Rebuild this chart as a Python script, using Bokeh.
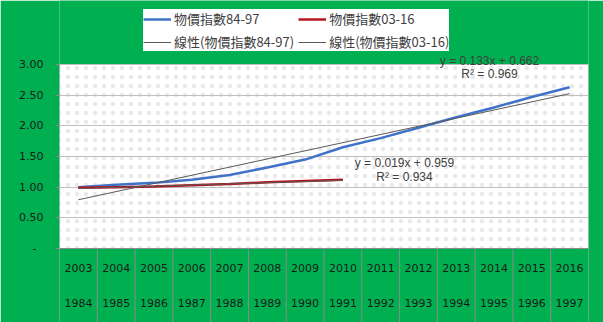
from bokeh.plotting import figure
from bokeh.models import FixedTicker, Label, Legend, LegendItem, Range1d
from bokeh.embed import file_html
from bokeh.resources import INLINE

# ---- data ----
years_03_16 = ["2003", "2004", "2005", "2006", "2007", "2008", "2009",
               "2010", "2011", "2012", "2013", "2014", "2015", "2016"]
years_84_97 = ["1984", "1985", "1986", "1987", "1988", "1989", "1990",
               "1991", "1992", "1993", "1994", "1995", "1996", "1997"]
cpi_84_97 = [1.00, 1.04, 1.07, 1.12, 1.20, 1.32, 1.45,
             1.65, 1.80, 1.97, 2.14, 2.30, 2.47, 2.63]
cpi_03_16 = [0.99, 1.00, 1.01, 1.03, 1.05, 1.08, 1.10, 1.12]
trend_84_97 = {"slope": 0.133, "intercept": 0.662, "r2": 0.969}
trend_03_16 = {"slope": 0.019, "intercept": 0.959, "r2": 0.934}
y_ticks = [0.0, 0.5, 1.0, 1.5, 2.0, 2.5, 3.0]
y_tick_labels = ["-\u00a0\u00a0", "0.50", "1.00", "1.50", "2.00", "2.50", "3.00"]
series_names = ["物價指數84-97", "物價指數03-16",
                "線性(物價指數84-97)", "線性(物價指數03-16)"]

GREEN = "#00B050"
BLUE = "#3F72C8"
RED = "#B4161E"
TREND = "#595959"
AXIS = "#8C8C8C"
TICK_FONT = "DejaVu Sans"
Y_MAX = 3.0
PX = 184 / Y_MAX                 # pixels per y unit (plot area 184 px tall)
Y_TOP = Y_MAX + 64 / PX          # green band above plot area (legend)
Y_BOT = -74 / PX                 # band below plot area (category table)
ROW1 = -19 / PX
ROW2 = -54 / PX

n = len(years_03_16)
p = figure(width=603, height=322, x_range=Range1d(0, n),
           y_range=Range1d(Y_BOT, Y_TOP),
           output_backend="svg", toolbar_location=None,
           min_border_left=59, min_border_right=15,
           min_border_top=0, min_border_bottom=0)
p.background_fill_color = GREEN
p.border_fill_color = GREEN
p.outline_line_color = None

# white plot area with faint dot pattern
p.quad(left=[0], right=[n], bottom=[0], top=[Y_MAX], fill_color="white",
       line_color="#A6A6A6", line_width=1, level="image",
       hatch_pattern=".", hatch_color="#C8C8C8", hatch_alpha=0.4,
       hatch_scale=9, hatch_weight=1)

# grid
p.xgrid.visible = False
p.ygrid.ticker = FixedTicker(ticks=y_ticks)
p.ygrid.grid_line_color = "#BFBFBF"
p.ygrid.grid_line_width = 1

# y axis
p.yaxis.ticker = FixedTicker(ticks=y_ticks)
p.yaxis.major_label_overrides = {t: l for t, l in zip(y_ticks, y_tick_labels)}
p.yaxis.major_tick_out = 4
p.yaxis.major_tick_in = 0
p.yaxis.minor_tick_line_color = None
p.yaxis.axis_line_color = None
p.yaxis.major_tick_line_color = AXIS
p.yaxis.major_label_text_font = TICK_FONT
p.yaxis.major_label_text_font_size = "11px"
p.yaxis.major_label_text_color = "#1a1a1a"
p.yaxis.major_label_standoff = 12

p.xaxis.visible = False

x_mid = [i + 0.5 for i in range(n)]
x_edges = [float(i) for i in range(n + 1)]

# category table below plot area: separators + two label rows
p.segment(x0=x_edges, y0=[0] * len(x_edges), x1=x_edges, y1=[Y_BOT] * len(x_edges),
          line_color=AXIS, line_width=1)
p.segment(x0=[0], y0=[0], x1=[n], y1=[0], line_color=AXIS, line_width=1)
p.text(x=x_mid, y=[ROW1] * n, text=years_03_16, text_align="center",
       text_baseline="middle", text_font={"value": TICK_FONT},
       text_font_size="11px", text_color="#1a1a1a")
p.text(x=x_mid, y=[ROW2] * n, text=years_84_97, text_align="center",
       text_baseline="middle", text_font={"value": TICK_FONT},
       text_font_size="11px", text_color="#1a1a1a")

# series
r_blue = p.line(x_mid, cpi_84_97, line_color=BLUE, line_width=2.5)
x_red = x_mid[:len(cpi_03_16)]
r_red = p.line(x_red, cpi_03_16, line_color=RED, line_width=2.5)

# trend lines from stated coefficients (x = 1..N)
xa = [x_mid[0], x_mid[len(cpi_84_97) - 1]]
ya = [trend_84_97["slope"] * k + trend_84_97["intercept"] for k in (1, len(cpi_84_97))]
r_ta = p.line(xa, ya, line_color=TREND, line_width=1)
xb = [x_red[0], x_red[-1]]
yb = [trend_03_16["slope"] * k + trend_03_16["intercept"] for k in (1, len(cpi_03_16))]
r_tb = p.line(xb, yb, line_color=TREND, line_width=1)

# trend equations
EQ_FONT = "Liberation Sans"
for txt, xx, yy in ((f"y = {trend_84_97['slope']:.3f}x + {trend_84_97['intercept']:.3f}", 11.38, 3.05),
                    (f"R² = {trend_84_97['r2']:.3f}", 11.38, 2.84),
                    (f"y = {trend_03_16['slope']:.3f}x + {trend_03_16['intercept']:.3f}", 9.13, 1.40),
                    (f"R² = {trend_03_16['r2']:.3f}", 9.13, 1.17)):
    p.add_layout(Label(x=xx, y=yy, text=txt, text_align="center",
                       text_baseline="middle", text_font=EQ_FONT,
                       text_font_size="12px", text_color="#404040"))

# legend filled column-first: col 1 = blue, its trend; col 2 = red, its trend
legend = Legend(items=[LegendItem(label=series_names[0], renderers=[r_blue]),
                       LegendItem(label=series_names[2], renderers=[r_ta]),
                       LegendItem(label=series_names[1], renderers=[r_red]),
                       LegendItem(label=series_names[3], renderers=[r_tb])],
                ncols=2, location=(84, 271))
legend.background_fill_color = "white"
legend.background_fill_alpha = 1
legend.border_line_color = None
legend.label_text_font = "Noto Sans CJK TC"
legend.label_text_font_size = "13px"
legend.label_text_color = "#404040"
legend.glyph_width = 28
legend.glyph_height = 16
legend.label_height = 17
legend.label_standoff = 3
legend.spacing = 4
legend.padding = 2
legend.margin = 0
p.add_layout(legend, "center")

open("out.html", "w").write(file_html(p, INLINE))
